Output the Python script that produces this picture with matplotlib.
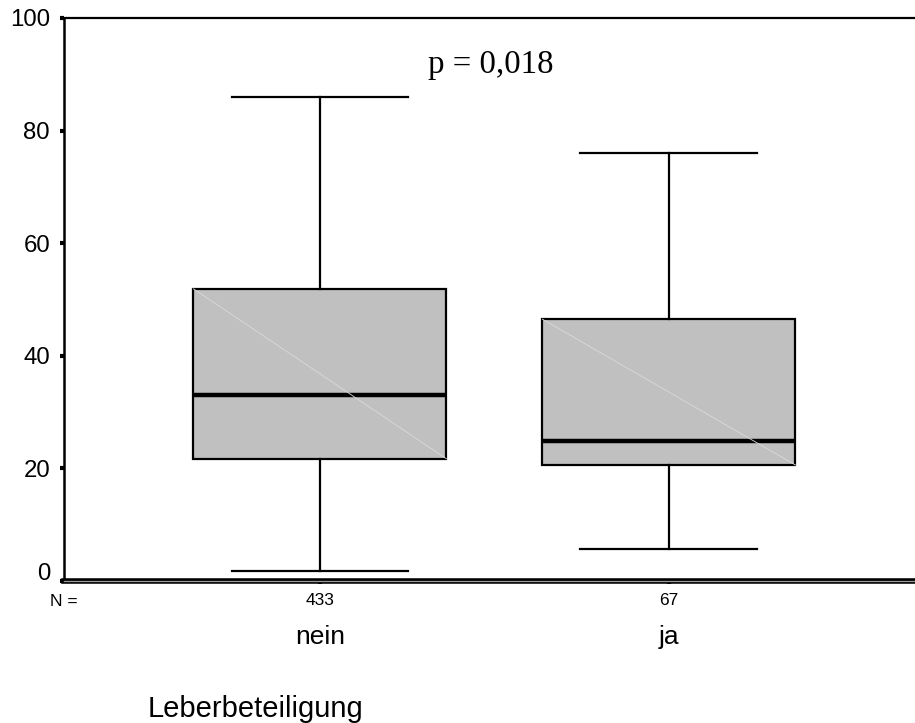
import matplotlib
matplotlib.use("Agg")
import matplotlib.pyplot as plt
import matplotlib.transforms as mtransforms

# Data
categories = ["nein", "ja"]
n_values = ["433", "67"]
whisker_low = [1.8, 5.7]
q1 = [21.7, 20.6]
median = [33.0, 24.9]
q3 = [51.9, 46.5]
whisker_high = [86.0, 76.0]
y_ticks = [0, 20, 40, 60, 80, 100]
p_text = "p = 0,018"
x_title = "Leberbeteiligung"

plt.rcParams['font.family'] = ['Liberation Sans', 'DejaVu Sans']

fig = plt.figure(figsize=(9.15, 7.23), dpi=100)
ax = fig.add_axes([64/915, 1-581/723, 1-64/915, (581-18)/723])

positions = [1, 2]
box_w = 0.725
cap_w = 0.507
stats = []
for i, c in enumerate(categories):
    stats.append(dict(med=median[i], q1=q1[i], q3=q3[i],
                      whislo=whisker_low[i], whishi=whisker_high[i],
                      fliers=[], label=c))

ax.bxp(stats, positions=positions, widths=box_w, capwidths=cap_w,
       showfliers=False, patch_artist=True,
       boxprops=dict(facecolor="#c0c0c0", edgecolor="black", linewidth=1.6),
       medianprops=dict(color="black", linewidth=3.2),
       whiskerprops=dict(color="black", linewidth=1.6),
       capprops=dict(color="black", linewidth=1.6))

# faint diagonal inside boxes (rendering artefact in the original)
for i, p in enumerate(positions):
    ax.plot([p - box_w/2, p + box_w/2], [q3[i], q1[i]], color="#dadada",
            linewidth=0.6, zorder=3)

ax.set_xlim(0.2665, 2.705)
ax.set_ylim(0, 100)

ax.spines['right'].set_visible(False)
ax.spines['top'].set_linewidth(1.6)
ax.spines['left'].set_linewidth(1.8)
ax.spines['bottom'].set_linewidth(4)
ax.axhline(0, color="#9a9a9a", linewidth=0.9, zorder=5, clip_on=False)

ax.set_yticks(y_ticks)
ax.set_yticklabels([str(v) for v in y_ticks])
ax.tick_params(axis='y', direction='out', length=3, width=3, pad=7,
               labelsize=17.3, colors='black')
# the zero label sits a little above its tick, as in the original
ylabels = ax.get_yticklabels()
ylabels[0].set_transform(ylabels[0].get_transform() +
                         mtransforms.ScaledTranslation(0, 10/100, fig.dpi_scale_trans))
ax.set_xticks(positions)
ax.set_xticklabels(n_values)
ax.tick_params(axis='x', direction='out', length=2.5, width=3, pad=6,
               labelsize=12.5)

trans = mtransforms.blended_transform_factory(ax.transData, fig.transFigure)
for i, p in enumerate(positions):
    ax.text(p, 1 - 637/723, categories[i], transform=trans, ha='center',
            va='center', fontsize=19)

fig.text(64/915, 1 - 601/723, "N =", ha='center', va='center', fontsize=12.5)
fig.text(148/915, 1 - 709/723, x_title, ha='left', va='center', fontsize=21)

ax.text(1.49, 90.2, p_text, ha='center', va='baseline', fontsize=23.7,
        family=['Liberation Serif', 'DejaVu Serif'])

fig.savefig("out.png", dpi=100)
